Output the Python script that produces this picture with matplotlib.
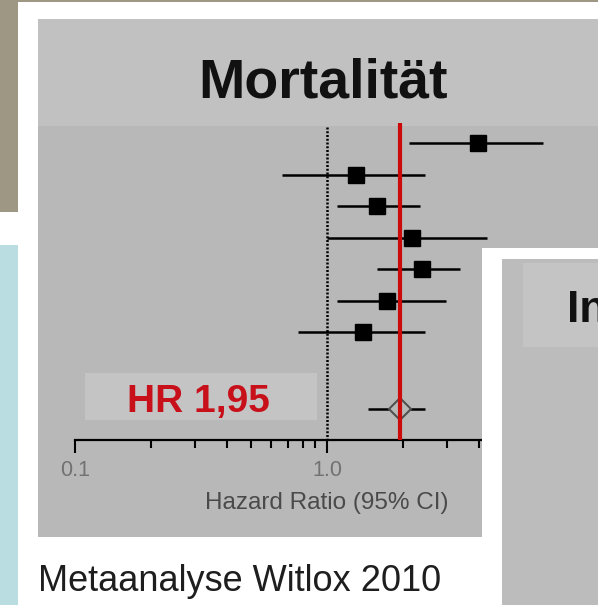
import numpy as np
import matplotlib
matplotlib.use("Agg")
import matplotlib.pyplot as plt
from matplotlib.patches import Rectangle
from matplotlib import transforms

plt.rcParams["font.family"] = ["Liberation Sans", "DejaVu Sans"]

# ---- data (hazard ratios, 95% CI)
hr = [3.97, 1.30, 1.58, 2.17, 2.38, 1.73, 1.39]
ci_lo = [2.12, 0.66, 1.10, 1.00, 1.58, 1.10, 0.77]
ci_hi = [7.19, 2.45, 2.34, 4.31, 3.37, 2.97, 2.45]
pooled_hr = 1.95
pooled_lo = 1.45
pooled_hi = 2.45
tick_vals = [0.1, 1.0, 10.0]
tick_labels = ["0.1", "1.0", "10"]
minor_vals = [0.2, 0.3, 0.4, 0.5, 0.6, 0.7, 0.8, 0.9, 2, 3, 4, 5, 6, 7, 8, 9]

W, H = 598, 605
fig = plt.figure(figsize=(W / 100, H / 100), dpi=100)
fig.patch.set_facecolor("white")


def rect(x0, y0, x1, y1, color, z=-1):
    # pixel box (y from top) -> figure rectangle
    fig.add_artist(Rectangle((x0 / W, 1 - y1 / H), (x1 - x0) / W, (y1 - y0) / H,
                             transform=fig.transFigure, facecolor=color,
                             edgecolor="none", zorder=z))


# ---- slide background
rect(0, 0, W, 2, "#9e9784")
rect(0, 0, 18, 212, "#9e9784")
rect(0, 245, 18, H, "#b9dde1")
rect(38, 19, W, 126, "#c1c1c1")

# ---- forest plot axes (lower panel)
px0, px1, py0, py1 = 38, W, 126, 537
ax = fig.add_axes([px0 / W, 1 - py1 / H, (px1 - px0) / W, (py1 - py0) / H])
ax.set_facecolor("#b8b8b8")

# pixel calibration of the log axis: 0.1 at x=75, one decade = 252 px
dec = 252.0
ax.set_xscale("log")
ax.set_xlim(10 ** (-1 + (px0 - 75) / dec), 10 ** (-1 + (px1 - 75) / dec))

row_px = 31.5
ax.set_ylim((py1 - 143) / row_px, (py0 - 143) / row_px)
rows = np.arange(len(hr))
pooled_row = len(hr) + 1.45
axis_row = (440 - 143) / row_px

ax.hlines(rows, ci_lo, ci_hi, color="black", lw=1.8, zorder=2)
ax.plot(hr, rows, "s", color="black", ms=11.5, zorder=5)
ax.hlines(pooled_row, pooled_lo, pooled_hi, color="black", lw=1.8, zorder=2)
ax.plot([pooled_hr], [pooled_row], "D", mfc="#b8b8b8", mec="#505050", mew=1.5,
        ms=11, zorder=3)

top_row = (123 - 143) / row_px
ax.vlines(1.0, (127 - 143) / row_px, axis_row, color="black", lw=1.8,
          linestyles=(0, (0.8, 0.7)), zorder=1, clip_on=False)
ax.vlines(pooled_hr, top_row, axis_row, color="#cc0a0a", lw=3, zorder=4,
          clip_on=False)

# ---- x axis
for s in ["top", "left", "right"]:
    ax.spines[s].set_visible(False)
ax.spines["bottom"].set_position(("data", axis_row))
ax.spines["bottom"].set_bounds(0.1, ax.get_xlim()[1])
ax.spines["bottom"].set_linewidth(1.6)
ax.set_yticks([])
ax.set_xticks(tick_vals)
ax.set_xticklabels(tick_labels)
ax.set_xticks(minor_vals, minor=True)
ax.xaxis.set_minor_formatter(matplotlib.ticker.NullFormatter())
ax.tick_params(axis="x", which="major", length=9.5, width=1.5, pad=5,
               labelsize=15.5, labelcolor="#727272")
ax.tick_params(axis="x", which="minor", length=5.5, width=1.5)

lbl_tr = transforms.blended_transform_factory(ax.transData, ax.transAxes)
ax.text(1.0, 1 - (503 - py0) / (py1 - py0), "Hazard Ratio (95% CI)", transform=lbl_tr,
        ha="center", va="center", fontsize=17.5, color="#4a4a4a")

# ---- HR label box
rect(85, 373, 317, 420, "#c4c4c4", z=1)
fig.text(198 / W, 1 - 412 / H, "HR 1,95", ha="center", va="baseline",
         fontsize=28, fontweight="bold", color="#c8101a", zorder=3)

# ---- title
fig.text(323 / W, 1 - 97 / H, "Mortalität", ha="center", va="baseline",
         fontsize=40, fontweight="bold", color="#111111")

# ---- overlapping next panel
rect(482, 248, W, H, "white", z=2)
rect(502, 259, W, H, "#bcbcbc", z=2)
rect(523, 263, W, 347, "#c4c4c4", z=2)
fig.text(567 / W, 1 - 322 / H, "In", ha="left", va="baseline",
         fontsize=32, fontweight="bold", color="#111111", zorder=4)

# ---- caption
fig.text(38 / W, 1 - 591 / H, "Metaanalyse Witlox 2010", ha="left", va="baseline",
         fontsize=26, color="#1e1e1e")

fig.savefig("out.png", dpi=100)
